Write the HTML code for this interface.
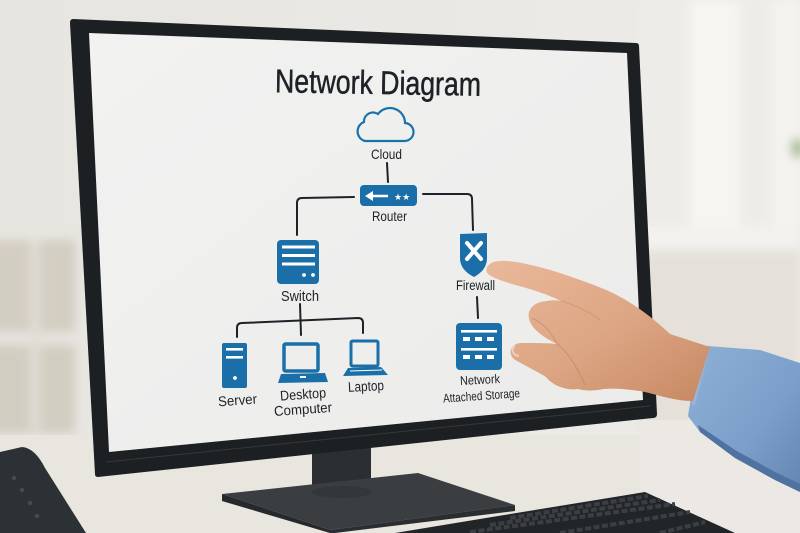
<!DOCTYPE html>
<html><head><meta charset="utf-8">
<style>
html,body{margin:0;padding:0;width:800px;height:533px;overflow:hidden;background:#e9e6e1}
svg{display:block}
text{font-family:"Liberation Sans","DejaVu Sans",sans-serif;fill:#1d2226}
</style></head>
<body>
<svg width="800" height="533" viewBox="0 0 800 533" xmlns="http://www.w3.org/2000/svg">
<defs>
<linearGradient id="wall" x1="0" y1="0" x2="1" y2="0">
<stop offset="0" stop-color="#e7e5e0"/><stop offset="0.5" stop-color="#eae8e4"/><stop offset="1" stop-color="#eeece8"/>
</linearGradient>
<linearGradient id="scr" x1="0" y1="0" x2="1" y2="1">
<stop offset="0" stop-color="#f2f2f1"/><stop offset="1" stop-color="#ebebea"/>
</linearGradient>
<linearGradient id="skin" x1="0" y1="0" x2="1" y2="1">
<stop offset="0" stop-color="#e9b99a"/><stop offset="0.55" stop-color="#dca482"/><stop offset="1" stop-color="#c68862"/>
</linearGradient>
<linearGradient id="sleeve" x1="0" y1="0" x2="1" y2="1">
<stop offset="0" stop-color="#8eb0d6"/><stop offset="0.6" stop-color="#7a9fc9"/><stop offset="1" stop-color="#6286b2"/>
</linearGradient>
<filter id="blur"><feGaussianBlur stdDeviation="5"/></filter>
<filter id="blur2"><feGaussianBlur stdDeviation="1.2"/></filter>
</defs>

<!-- background -->
<rect width="800" height="533" fill="url(#wall)"/>
<g filter="url(#blur)">
<rect x="-10" y="240" width="85" height="92" fill="#d3cec2"/>
<rect x="-10" y="345" width="85" height="88" fill="#d2cdc1"/>
<rect x="30" y="240" width="10" height="190" fill="#e0ddd6"/>
<rect x="640" y="0" width="160" height="235" fill="#eeece8"/>
<rect x="690" y="0" width="50" height="230" fill="#f6f5f2"/>
<rect x="772" y="0" width="28" height="230" fill="#f4f3f0"/>
<rect x="640" y="226" width="160" height="22" fill="#f3f2ee"/>
<rect x="640" y="250" width="160" height="180" fill="#e5e1da"/>
<ellipse cx="797" cy="148" rx="6" ry="10" fill="#9fb58a"/>
</g>
<!-- desk -->
<rect x="0" y="435" width="800" height="98" fill="#e9e5df"/>
<rect x="640" y="420" width="160" height="113" fill="#ece9e4"/>

<!-- phone bottom-left -->
<path d="M0,452 L22,447 Q35,448 45,468 L86,533 L0,533 Z" fill="#2b3135"/>
<g fill="#454c51"><circle cx="22" cy="490" r="2.2"/><circle cx="30" cy="503" r="2.2"/><circle cx="37" cy="516" r="2.2"/><circle cx="14" cy="478" r="2.2"/></g>

<!-- monitor stand -->
<path d="M312,450 L371,443 L371,492 L312,497 Z" fill="#2b2f32"/>
<path d="M222,494 L418,473 L515,505 L330,530 Z" fill="#3a3e41"/>
<path d="M222,494 L330,530 L330,533 L222,501 Z" fill="#25292b"/>
<path d="M330,530 L515,505 L515,511 L335,533 L330,533 Z" fill="#2a2e31"/>
<ellipse cx="342" cy="492" rx="30" ry="6" fill="#33373a"/>

<!-- keyboard -->
<path d="M498,516 L645,492 L735,533 L395,533 Z" fill="#222528"/>
<g stroke="#3b3f43" stroke-width="4" stroke-dasharray="6 2.5" fill="none">
<path d="M510,518 L648,496"/>
<path d="M490,525 L660,500"/>
<path d="M470,532 L675,504"/>
<path d="M560,533 L690,512"/>
<path d="M660,533 L705,522"/>
</g>

<!-- monitor bezel -->
<path d="M73,19 L636,43 Q639,43 639,46 L657,414 Q657,418 653,418 L98,477 Q95,477 95,474 L70,23 Q70,19 73,19 Z" fill="#1c2023"/>
<path d="M106,462 L650,406" stroke="#33383b" stroke-width="1" fill="none"/>
<!-- screen -->
<path d="M89,33 L627,53 L643,400 L109,452 Z" fill="url(#scr)"/>

<!-- diagram -->
<text x="275" y="94" font-size="33" textLength="206" lengthAdjust="spacingAndGlyphs" stroke="#1d2226" stroke-width="0.5" transform="rotate(1 378 85)">Network Diagram</text>

<!-- cloud -->
<path d="M365,141 H404 A9,9 0 0 0 405,123 A15,15 0 0 0 378,114 A9,9 0 0 0 364,122 A10,10 0 0 0 365,141 Z" fill="none" stroke="#1a72ad" stroke-width="2.2"/>
<text x="371" y="159" font-size="14" textLength="31" lengthAdjust="spacingAndGlyphs">Cloud</text>

<!-- connectors -->
<g stroke="#1d2226" stroke-width="2" fill="none" stroke-linecap="round">
<path d="M387,163 L388,182"/>
<path d="M354,197 L302,198 Q297,198 297,203 L297,235"/>
<path d="M423,194 L467,194 Q472,194 472,199 L473,230"/>
<path d="M300,304 L301,335"/>
<path d="M237,337 L237,328 Q237,323 242,323 L358,318 Q363,318 363,323 L363,333"/>
<path d="M477,297 L478,318"/>
</g>

<!-- router -->
<rect x="360" y="185" width="57" height="21" rx="4" fill="#1b6fa9"/>
<path d="M371,196 L388,196" stroke="#fff" stroke-width="2.6"/>
<path d="M365,196 L373,191 L373,201 Z" fill="#fff"/>
<text x="394" y="200" font-size="9" style="fill:#fff;font-family:'DejaVu Sans',sans-serif">★★</text>
<text x="372" y="221" font-size="14" textLength="35" lengthAdjust="spacingAndGlyphs">Router</text>

<!-- switch -->
<rect x="277" y="240" width="42" height="44" rx="4" fill="#1b6fa9"/>
<g fill="#fff">
<rect x="282" y="245.5" width="33" height="3"/>
<rect x="282" y="254" width="33" height="3"/>
<rect x="282" y="262.5" width="33" height="3"/>
<circle cx="304" cy="275" r="1.9"/><circle cx="313" cy="275" r="1.9"/>
</g>
<text x="281" y="301" font-size="15" textLength="38" lengthAdjust="spacingAndGlyphs">Switch</text>

<!-- firewall -->
<path d="M460,234 L487,233 L487,258 Q487,270 474,277 Q460,270 460,258 Z" fill="#1b6fa9"/>
<g stroke="#fff" stroke-width="4" stroke-linecap="round">
<path d="M467,243 L481,259"/><path d="M481,243 L467,259"/>
</g>
<text x="456" y="290" font-size="13.5" textLength="39" lengthAdjust="spacingAndGlyphs">Firewall</text>

<!-- NAS -->
<rect x="456" y="323" width="46" height="47" rx="4" fill="#1b6fa9"/>
<g fill="#fff">
<rect x="461" y="330" width="36" height="2.6"/>
<rect x="463" y="337" width="7" height="4"/><rect x="475" y="337" width="7" height="4"/><rect x="487" y="337" width="7" height="4"/>
<rect x="461" y="348" width="36" height="2.6"/>
<rect x="463" y="355" width="7" height="4"/><rect x="475" y="355" width="7" height="4"/><rect x="487" y="355" width="7" height="4"/>
</g>
<text x="460" y="384" font-size="12.5" textLength="40" lengthAdjust="spacingAndGlyphs" transform="rotate(-3 480 380)">Network</text>
<text x="443" y="400" font-size="12.5" textLength="77" lengthAdjust="spacingAndGlyphs" transform="rotate(-4 481 396)">Attached Storage</text>

<!-- server -->
<rect x="222" y="343" width="25" height="45" rx="2" fill="#1b6fa9"/>
<g fill="#fff">
<rect x="226" y="348" width="17" height="2.6"/>
<rect x="226" y="356" width="17" height="2.6"/>
<circle cx="235" cy="378" r="1.9"/>
</g>
<text x="218" y="405" font-size="14" textLength="39" lengthAdjust="spacingAndGlyphs" transform="rotate(-4 237 400)">Server</text>

<!-- desktop -->
<rect x="284" y="344" width="34" height="27" rx="1.5" fill="none" stroke="#1b6fa9" stroke-width="3.5"/>
<path d="M281,374 L325,373 L328,382 L278,383 Z" fill="#1b6fa9"/>
<rect x="300" y="376" width="6" height="2" fill="#fff"/>
<text x="280" y="399" font-size="14" textLength="46" lengthAdjust="spacingAndGlyphs" transform="rotate(-4 303 394)">Desktop</text>
<text x="274" y="414" font-size="14" textLength="58" lengthAdjust="spacingAndGlyphs" transform="rotate(-4 303 409)">Computer</text>

<!-- laptop -->
<rect x="351" y="341" width="27" height="25" rx="1.5" fill="none" stroke="#1b6fa9" stroke-width="3"/>
<path d="M348,368 L381,367 L388,375 L343,376 Z" fill="#1b6fa9"/>
<path d="M350,371 L382,370" stroke="#fff" stroke-width="1"/>
<text x="348" y="391" font-size="14" textLength="36" lengthAdjust="spacingAndGlyphs" transform="rotate(-3 366 387)">Laptop</text>

<!-- sleeve -->
<path d="M708,346 L760,350 L800,363 L800,492 L775,480 L735,458 L700,432 L688,416 L693,385 Z" fill="url(#sleeve)"/>
<path d="M698,425 L735,450 L775,472 L800,484 L800,492 L775,480 L735,458 L700,432 Z" fill="#4f72a0"/>
<path d="M708,346 L693,405" stroke="#a9c3e0" stroke-width="2" fill="none" filter="url(#blur2)"/>

<!-- hand -->
<path d="M490,264 C494,260 506,260 522,263 C548,268 576,278 604,289 C630,300 652,317 670,334 L710,347 L693,401 C673,401 656,394 640,391 C626,389 614,388 604,389 C594,391 585,391 578,389 C566,391 552,385 546,377 C536,371 526,366 517,361 C508,357 508,345 520,343 C534,343 547,343 557,344 C545,338 532,330 529,319 C527,309 534,302 547,301 C552,300 557,300 561,301 C549,295 534,290 519,286 C505,282 496,279 491,276 C485,273 485,267 490,264 Z" fill="url(#skin)"/>
<path d="M515,346 C511,349 512,355 519,356" stroke="#f0d0bd" stroke-width="2" fill="none"/>
<path d="M557,344 C568,352 577,367 585,385" stroke="#b97c58" stroke-width="1" fill="none" opacity="0.55"/>
<path d="M532,318 C543,323 552,333 557,344" stroke="#b97c58" stroke-width="1" fill="none" opacity="0.5"/>
<path d="M561,301 C575,305 590,312 600,320" stroke="#b97c58" stroke-width="1" fill="none" opacity="0.4"/>
</svg>
</body></html>
